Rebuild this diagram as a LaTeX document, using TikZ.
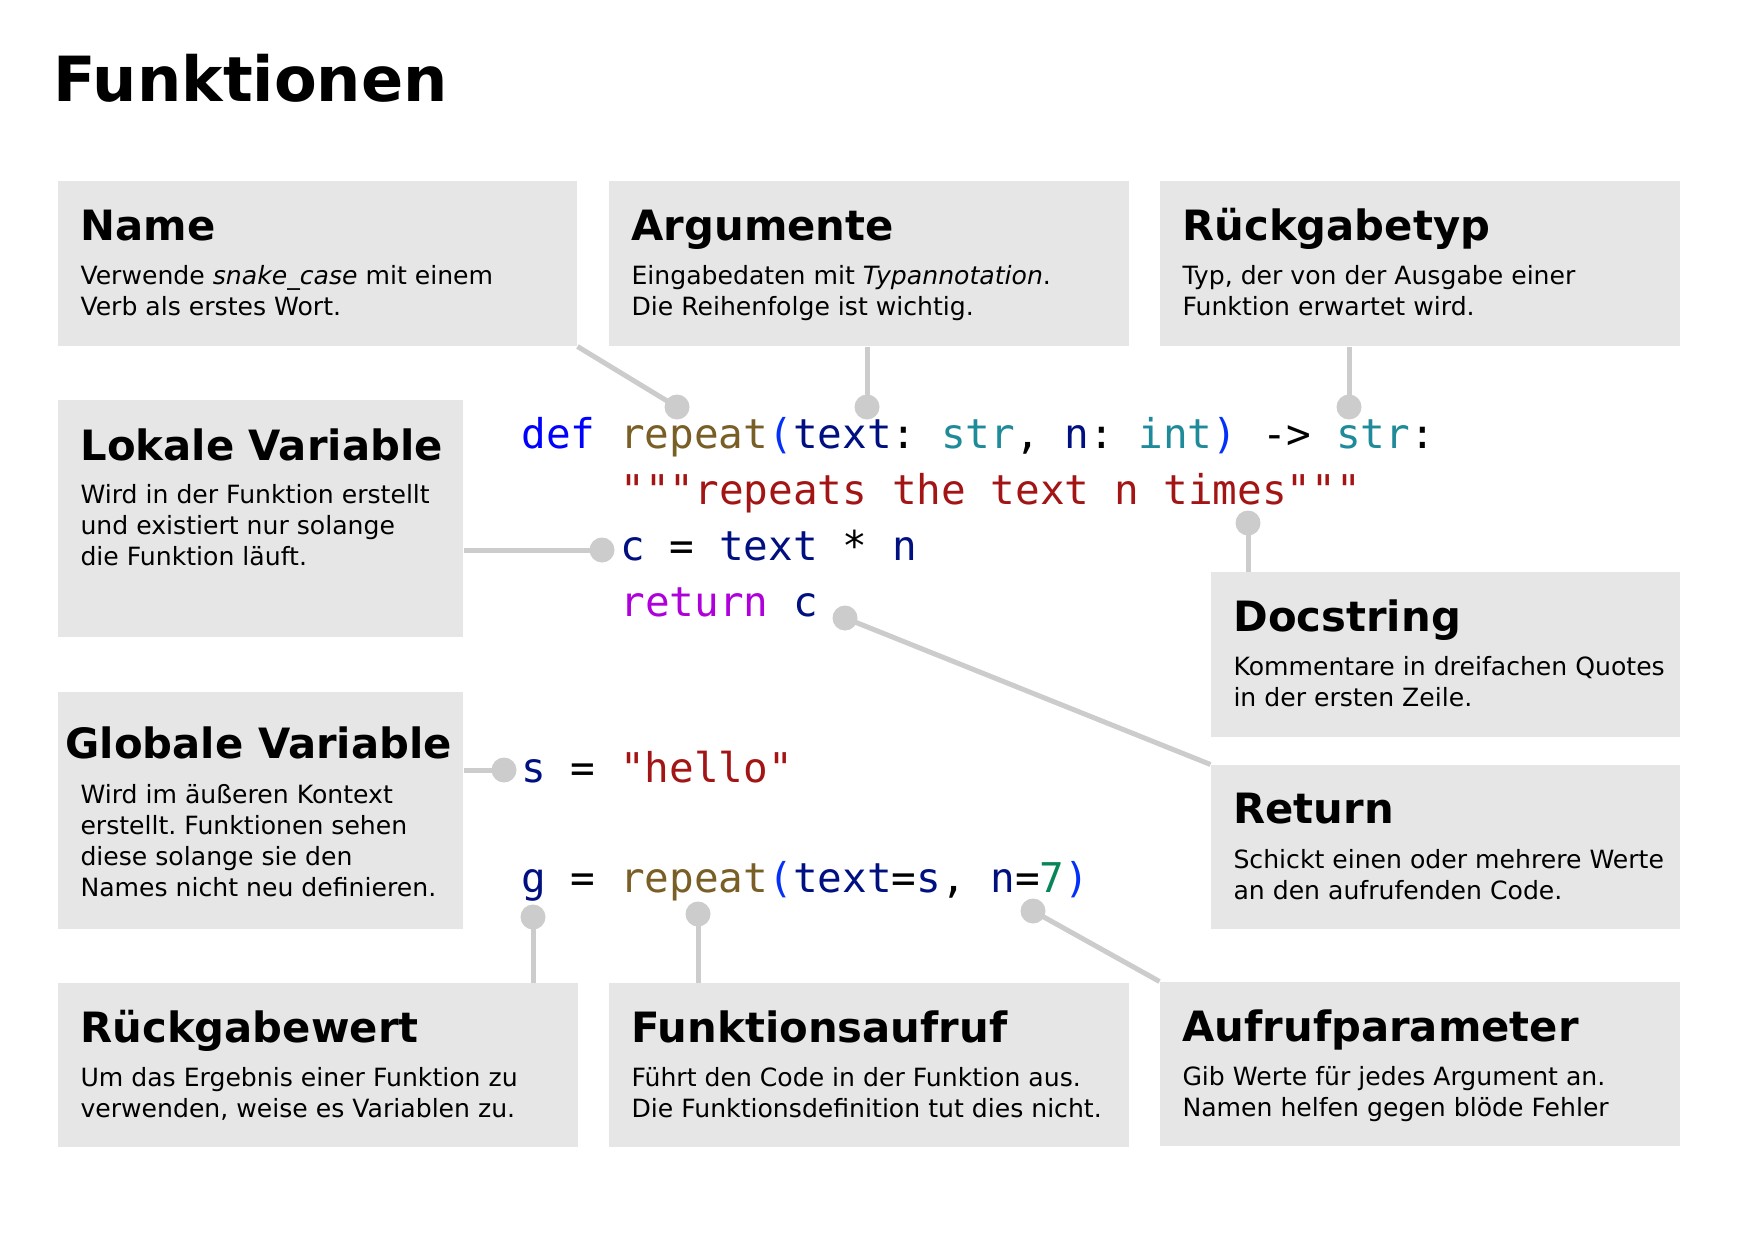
\documentclass[tikz,border=0pt]{standalone}
\usepackage{fontspec}
\setmainfont{DejaVu Sans}
\newfontfamily\codefont{DejaVu Sans Mono}
\usetikzlibrary{fit}
\frenchspacing

\definecolor{boxgray}{HTML}{E6E6E6}
\definecolor{linkgray}{HTML}{CCCCCC}
\definecolor{kwdef}{HTML}{0000FF}
\definecolor{kwret}{HTML}{AF00DB}
\definecolor{fname}{HTML}{795E26}
\definecolor{paren}{HTML}{0431FA}
\definecolor{varname}{HTML}{001080}
\definecolor{typename}{HTML}{1F8A99}
\definecolor{strlit}{HTML}{A31515}
\definecolor{numlit}{HTML}{098658}

\begin{document}
\begin{tikzpicture}[x=0.4pt,y=-0.4pt,
  infobox/.style={fill=boxgray,inner sep=0pt},
  boxhead/.style={anchor=base west,inner sep=0pt,font=\fontsize{16.7}{20}\selectfont\bfseries},
  boxtext/.style={anchor=base west,inner sep=0pt,align=left,font=\fontsize{10.05}{12.4}\selectfont},
  codeline/.style={anchor=base west,inner sep=0pt,font=\fontsize{16.4}{20}\selectfont\codefont},
  linkline/.style={draw=linkgray,line width=2pt},
  knob/.style={fill=linkgray}]
\useasboundingbox (0,0) rectangle (1753,1239);
% title:
\node[anchor=base west,inner sep=0pt,font=\fontsize{24.9}{30}\selectfont\bfseries] (title) at (53,102) {Funktionen};
% boxes:
\node[infobox,fit={(58,181) (577,346)}] (name) {};
\node[infobox,fit={(609,181) (1129,346)}] (args) {};
\node[infobox,fit={(1160,181) (1680,346)}] (rtype) {};
\node[infobox,fit={(58,400) (463,637)}] (local) {};
\node[infobox,fit={(58,692) (463,929)}] (global) {};
\node[infobox,fit={(1211,572) (1680,737)}] (doc) {};
\node[infobox,fit={(1211,765) (1680,929)}] (ret) {};
\node[infobox,fit={(58,983) (578,1147)}] (rval) {};
\node[infobox,fit={(609,983) (1129,1147)}] (call) {};
\node[infobox,fit={(1160,982) (1680,1146)}] (param) {};
% box texts (base = last line):
\node[boxhead] (nameh) at (80,240) {Name};
\node[boxtext] (namet) at (80,315) {Verwende \textit{snake\_case} mit einem\\Verb als erstes Wort.};
\node[boxhead] (argsh) at (631,240) {Argumente};
\node[boxtext] (argst) at (631,315) {Eingabedaten mit \textit{Typannotation}.\\Die Reihenfolge ist wichtig.};
\node[boxhead] (rtypeh) at (1182,240) {Rückgabetyp};
\node[boxtext] (rtypet) at (1182,315) {Typ, der von der Ausgabe einer\\Funktion erwartet wird.};
\node[boxhead] (localh) at (80,460) {Lokale Variable};
\node[boxtext] (localt) at (80,565) {Wird in der Funktion erstellt\\und existiert nur solange\\die Funktion läuft.};
\node[boxhead] (globalh) at (65,758) {Globale Variable};
\node[boxtext] (globalt) at (80,896) {Wird im äußeren Kontext\\erstellt. Funktionen sehen\\diese solange sie den\\Names nicht neu definieren.};
\node[boxhead] (doch) at (1233,631) {Docstring};
\node[boxtext] (doct) at (1233,706) {Kommentare in dreifachen Quotes\\in der ersten Zeile.};
\node[boxhead] (reth) at (1233,823) {Return};
\node[boxtext] (rett) at (1233,899) {Schickt einen oder mehrere Werte\\an den aufrufenden Code.};
\node[boxhead] (rvalh) at (80,1042) {Rückgabewert};
\node[boxtext] (rvalt) at (80,1117) {Um das Ergebnis einer Funktion zu\\verwenden, weise es Variablen zu.};
\node[boxhead] (callh) at (631,1042) {Funktionsaufruf};
\node[boxtext] (callt) at (631,1117) {Führt den Code in der Funktion aus.\\Die Funktionsdefinition tut dies nicht.};
\node[boxhead] (paramh) at (1182,1041) {Aufrufparameter};
\node[boxtext] (paramt) at (1182,1116) {Gib Werte für jedes Argument an.\\Namen helfen gegen blöde Fehler};
% code:
\node[codeline] (l1) at (521,448) {\textcolor{kwdef}{def} \textcolor{fname}{repeat}\textcolor{paren}{(}\textcolor{varname}{text}: \textcolor{typename}{str}, \textcolor{varname}{n}: \textcolor{typename}{int}\textcolor{paren}{)} -> \textcolor{typename}{str}:};
\node[codeline] (l2) at (620,504) {\textcolor{strlit}{"""repeats the text n times"""}};
\node[codeline] (l3) at (620,560) {\textcolor{varname}{c} = \textcolor{varname}{text} * \textcolor{varname}{n}};
\node[codeline] (l4) at (620,616) {\textcolor{kwret}{return} \textcolor{varname}{c}};
\node[codeline] (l5) at (521,782) {\textcolor{varname}{s} = \textcolor{strlit}{"hello"}};
\node[codeline] (l6) at (521,892) {\textcolor{varname}{g} = \textcolor{fname}{repeat}\textcolor{paren}{(}\textcolor{varname}{text}=\textcolor{varname}{s}, \textcolor{varname}{n}=\textcolor{numlit}{7}\textcolor{paren}{)}};
% connectors:
\coordinate (dname) at (677,407);
\coordinate (dargs) at (867,407);
\coordinate (drtype) at (1349,407);
\coordinate (ddoc) at (1248,523);
\coordinate (dlocal) at (602,550);
\coordinate (dret) at (845,618);
\coordinate (dglobal) at (504,770);
\coordinate (drval) at (533,917);
\coordinate (dcall) at (698,914);
\coordinate (dparam) at (1033,911);
\draw[linkline] (name.south east) -- (dname);
\draw[linkline] (dargs |- args.south) -- (dargs);
\draw[linkline] (drtype |- rtype.south) -- (drtype);
\draw[linkline] (ddoc) -- (ddoc |- doc.north);
\draw[linkline] (local.east |- dlocal) -- (dlocal);
\draw[linkline] (dret) -- (ret.north west);
\draw[linkline] (global.east |- dglobal) -- (dglobal);
\draw[linkline] (drval) -- (drval |- rval.north);
\draw[linkline] (dcall) -- (dcall |- call.north);
\draw[linkline] (dparam) -- (param.north west);
\foreach \d in {dname,dargs,drtype,ddoc,dlocal,dret,dglobal,drval,dcall,dparam}
  \fill[knob] (\d) circle[radius=5pt];
\end{tikzpicture}
\end{document}
